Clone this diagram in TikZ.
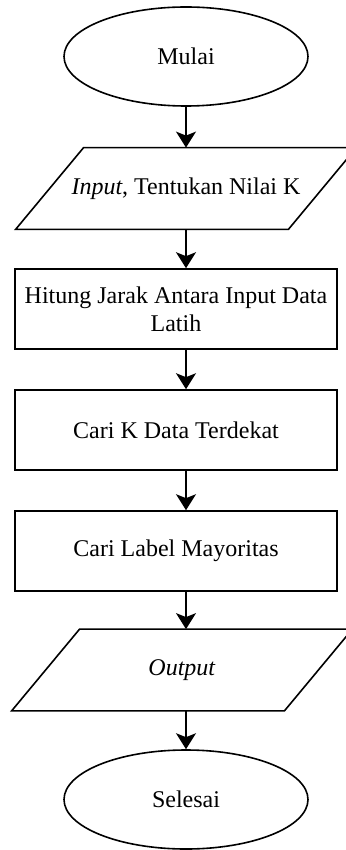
\documentclass[tikz,border=0pt]{standalone}
\usepackage{fontspec}
\setmainfont{Liberation Serif}
\usetikzlibrary{shapes.geometric}
\usetikzlibrary{arrows.meta}
\newcommand{\ioframe}[1]{\draw[line width=0.8pt] ([xshift=-17pt]#1.south west) -- ([xshift=-17pt]#1.south east) -- ([xshift=17pt]#1.north east) -- ([xshift=17pt]#1.north west) -- cycle;}

\begin{document}
\begin{tikzpicture}
    [
    x=0.5pt, y=-0.5pt,
    every node/.style = {font=\fontsize{12}{14}\selectfont},
    term/.style = {draw,ellipse,minimum width=122pt,minimum height=49.5pt,inner sep=0pt,line width=0.8pt},
    io/.style = {rectangle,minimum width=136pt,minimum height=40.5pt,inner sep=0pt},
    proc/.style = {draw,rectangle,minimum width=161pt,minimum height=40pt,inner sep=0pt,align=center,line width=0.8pt},
    flow/.style = {-{Stealth[length=8pt,width=10pt,inset=2pt]},line width=0.8pt}
    ]
\useasboundingbox (0,0) rectangle (346,850);
\node[term] (mulai) at (186,56.5) {Mulai};
\node[io] (input) at (186,188.5) {\textit{Input}, Tentukan Nilai K};
\node[proc] (jarak) at (176,309) {Hitung Jarak Antara Input Data\\Latih};
\node[proc] (dekat) at (176,430) {Cari K Data Terdekat};
\node[proc] (label) at (176,551) {Cari Label Mayoritas};
\node[io] (output) at (182,670) {\textit{Output}};
\node[term] (selesai) at (186,799.5) {Selesai};
\ioframe{input}
\ioframe{output}

\draw[flow] (mulai.south) -- (mulai.south |- input.north);
\draw[flow] (input.south) -- (input.south |- jarak.north);
\draw[flow] (input.south |- jarak.south) -- (input.south |- dekat.north);
\draw[flow] (input.south |- dekat.south) -- (input.south |- label.north);
\draw[flow] (input.south |- label.south) -- (input.south |- output.north);
\draw[flow] (mulai.south |- output.south) -- (mulai.south |- selesai.north);
\end{tikzpicture}
\end{document}
